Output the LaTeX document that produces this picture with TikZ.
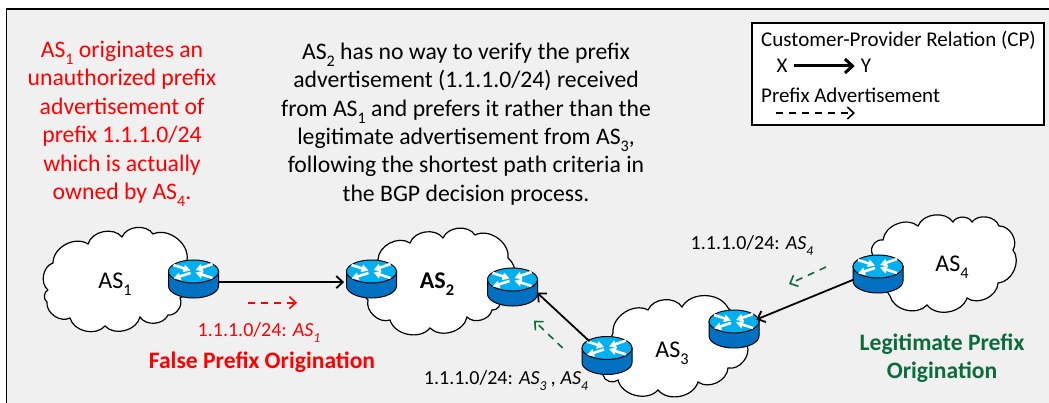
\documentclass[tikz,border=0pt]{standalone}
\usepackage{fontspec}
\setmainfont{Carlito}
\usetikzlibrary{arrows.meta,shapes.geometric}
\definecolor{bgc}{HTML}{F0F0F0}
\definecolor{rtop}{HTML}{00B0F0}
\definecolor{rside}{HTML}{0070C0}
\definecolor{lgreen}{HTML}{0B6B3A}
\newcommand{\asub}[1]{\raisebox{-.3em}{\scalebox{.68}{#1}}}
\tikzset{
  cloudline/.style={draw=black,fill=white,line width=1.2pt,every to/.style={bend left=62}},
  routernode/.style={ellipse,inner sep=0pt,minimum width=51pt,minimum height=38pt},
  rel/.style={draw=black,line width=1.8pt,-{Straight Barb[length=6.5pt,width=12pt,line width=1.8pt]}},
  adv/.style={line width=1.6pt,dash pattern=on 7pt off 6pt,-{Straight Barb[length=6.5pt,width=12pt,line width=1.6pt]}},
  para/.style={align=center,font=\fontsize{23.7}{28.4}\selectfont,inner sep=0pt},
  lab/.style={font=\fontsize{20}{24}\selectfont,inner sep=0pt},
  aslab/.style={font=\fontsize{24}{28}\selectfont,inner sep=0pt},
  headl/.style={align=center,font=\fontsize{23.6}{28}\selectfont\bfseries,inner sep=0pt},
  leg/.style={font=\fontsize{21}{25}\selectfont,inner sep=0pt},
}
\newcommand{\routerat}[3]{%
  \node[routernode] (#1) at (#2,#3) {};
  \begin{scope}[shift={(#2,#3)}]
    \path[draw=black,fill=rside,line width=1pt] (-25,-7.5) -- (-25,7) arc[start angle=180,end angle=0,x radius=25,y radius=12] -- (25,-7.5) -- cycle;
    \path[draw=black,fill=rtop,line width=1pt] (0,-7.5) ellipse[x radius=25,y radius=11.5];
    \begin{scope}[white,line width=2.6pt,-{Triangle[length=7pt,width=7.5pt]}]
      \draw (-20,-14) -- (-3,-8.5);
      \draw (19,-15) -- (2,-9);
      \draw (19,-1) -- (2,-6.5);
      \draw (-3,-6) -- (-20,-0.5);
    \end{scope}
  \end{scope}
}
\begin{document}
\begin{tikzpicture}[x=1pt,y=-1pt]
\useasboundingbox (0,0) rectangle (1049,403);
\fill[white] (0,0) rectangle (1049,403);
\fill[bgc] (6.5,9) rectangle (1049,403);
\draw[black,line width=1.5pt] (6.5,403) -- (6.5,9) -- (1049,9);
% clouds
\draw[cloudline] (48,290) to (53,263) to (88,244) to (122,237) to (153,234) to (187,260) to (180,298) to (168,315) to (140,317) to (105,326) to (70,318) to (47,302) to (48,290);
\draw[cloudline] (378,260) to (410,243) to (443,238) to (475,235) to (508,258) to (500,300) to (492,310) to (467,317) to (430,328) to (390,320) to (368,300) to (378,260);
\draw[cloudline] (613,333) to (648,310) to (682,307) to (728,308) to[bend left=20] (747,345) to (728,368) to (698,382) to (658,390) to (618,380) to (603,375) to[bend left=10] (613,333);
\draw[cloudline] (872,253) to (883,240) to (918,226) to (953,222) to (972,222) to (999,226) to (1013,250) to (998,283) to (967,298) to (927,305) to (890,296) to[bend left=10] (872,253);
% routers
\routerat{r1}{193.5}{279}
\routerat{r2}{371.5}{279}
\routerat{r2b}{512.5}{287}
\routerat{r3a}{607}{355.5}
\routerat{r3b}{734}{329}
\routerat{r4}{878}{274}
% relations
\draw[rel,shorten >=2pt] (r1.-7) -- (r2.187);
\draw[rel] (r3a.141) -- (r2b.-13);
\draw[rel] (r4.193) -- (r3b.23);
% advertisement arrows
\coordinate (a1) at (248,302.7); \coordinate (a2) at (297,302.7);
\coordinate (b1) at (826,267); \coordinate (b2) at (789,284);
\coordinate (c1) at (562.7,348); \coordinate (c2) at (534,320.7);
\draw[adv,red] (a1) -- (a2);
\draw[adv,lgreen] (b1) -- (b2);
\draw[adv,lgreen] (c1) -- (c2);
% labels
\node[aslab] (l1) at (115,284) {AS\asub{1}};
\node[aslab,font=\fontsize{24}{28}\selectfont\bfseries] (l2) at (437,284) {AS\asub{2}};
\node[aslab] (l3) at (672,353) {AS\asub{3}};
\node[aslab] (l4) at (952,267) {AS\asub{4}};
\node[para,text=red] (t1) at (122,124) {AS\asub{1} originates an\\unauthorized prefix\\advertisement of\\prefix 1.1.1.0/24\\which is actually\\owned by AS\asub{4}.};
\node[para] (t2) at (466,124) {AS\asub{2} has no way to verify the prefix\\advertisement (1.1.1.0/24) received\\from AS\asub{1} and prefers it rather than the\\legitimate advertisement from AS\asub{3},\\following the shortest path criteria in\\the BGP decision process.};
\node[lab,text=red] (p1) at (259,333) {1.1.1.0/24: \textit{AS\asub{1}}};
\node[headl,text=red] (h1) at (262,362) {False Prefix Origination};
\node[lab] (p2) at (506,381) {1.1.1.0/24: \textit{AS\asub{3} , AS\asub{4}}};
\node[lab] (p3) at (752,246) {1.1.1.0/24: \textit{AS\asub{4}}};
\node[headl,text=lgreen] (h2) at (942,358.5) {Legitimate Prefix\\Origination};
% legend
\node[draw=black,line width=1.3pt,fill=white,minimum width=292pt,minimum height=102pt,inner sep=0pt] (box) at (898,74) {};
\node[leg,anchor=west] (lt1) at (761,40) {Customer-Provider Relation (CP)};
\node[leg] (lx) at (782,66) {X};
\node[leg] (ly) at (866,66) {Y};
\draw[line width=3pt,shorten <=6pt,shorten >=6pt,-{Straight Barb[length=7.5pt,width=14pt,line width=3pt]}] (lx) -- (ly);
\node[leg,anchor=west] (lt2) at (761,95) {Prefix Advertisement};
\coordinate (d1) at (776,113); \coordinate (d2) at (855,113);
\draw[adv,black] (d1) -- (d2);
\end{tikzpicture}
\end{document}
